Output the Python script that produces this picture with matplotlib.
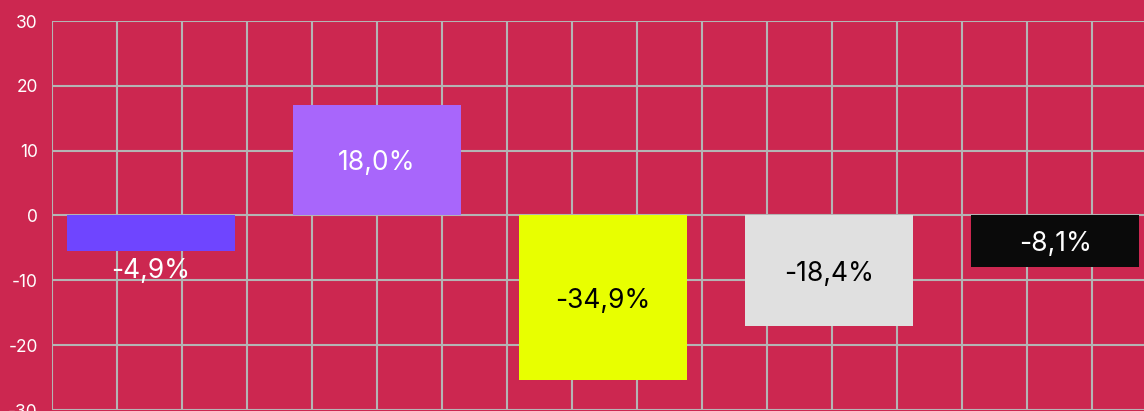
import numpy as np
import matplotlib
matplotlib.use("Agg")
import matplotlib.pyplot as plt

# data
bar_values = [-5.5, 17.1, -25.3, -17.1, -7.9]
bar_labels = ["-4,9%", "18,0%", "-34,9%", "-18,4%", "-8,1%"]
bar_colors = ["#6F45FF", "#A866FB", "#E8FF00", "#E0E0E0", "#0A0A0A"]
label_colors = ["white", "white", "black", "black", "white"]
y_ticks = [-30, -20, -10, 0, 10, 20, 30]

bg = "#CC2750"
grid_c = "#B4B4B4"

plt.rcParams['font.family'] = ['Inter', 'DejaVu Sans']

fig = plt.figure(figsize=(11.44, 4.11), dpi=100)
fig.patch.set_facecolor(bg)
ax = fig.add_axes([51.7 / 1144, 1.0 / 411, 1.0, 389.0 / 411])
ax.set_facecolor(bg)

x = np.arange(len(bar_values))
x_left = -0.438
x_right = x_left + 1144 / 226.1

# square grid: vertical lines every 65 px like the horizontal ones
step = 65 / 226.1
ax.set_xticks(x_left + step * np.arange(17))
ax.set_xticklabels([])
ax.set_yticks(y_ticks)
ax.set_yticklabels([str(t) for t in y_ticks], color="white", fontsize=12.5)
ax.tick_params(length=0, pad=10)
ax.grid(True, color=grid_c, linewidth=1.5)
ax.set_axisbelow(True)
for s in ax.spines.values():
    s.set_visible(False)

bars = ax.bar(x, bar_values, width=0.743, color=bar_colors, zorder=3)
ax.set_xlim(x_left, x_right)
ax.set_ylim(-30, 30)

for i, (b, v) in enumerate(zip(bars, bar_values)):
    cx = b.get_x() + b.get_width() / 2
    if abs(v) < 7:
        ax.text(cx, v - 1.1, bar_labels[i], ha="center", va="top",
                color=label_colors[i], fontsize=19, zorder=4)
    else:
        ax.text(cx, v / 2, bar_labels[i], ha="center", va="center_baseline",
                color=label_colors[i], fontsize=19, zorder=4)

fig.savefig("out.png", dpi=100, facecolor=bg)
